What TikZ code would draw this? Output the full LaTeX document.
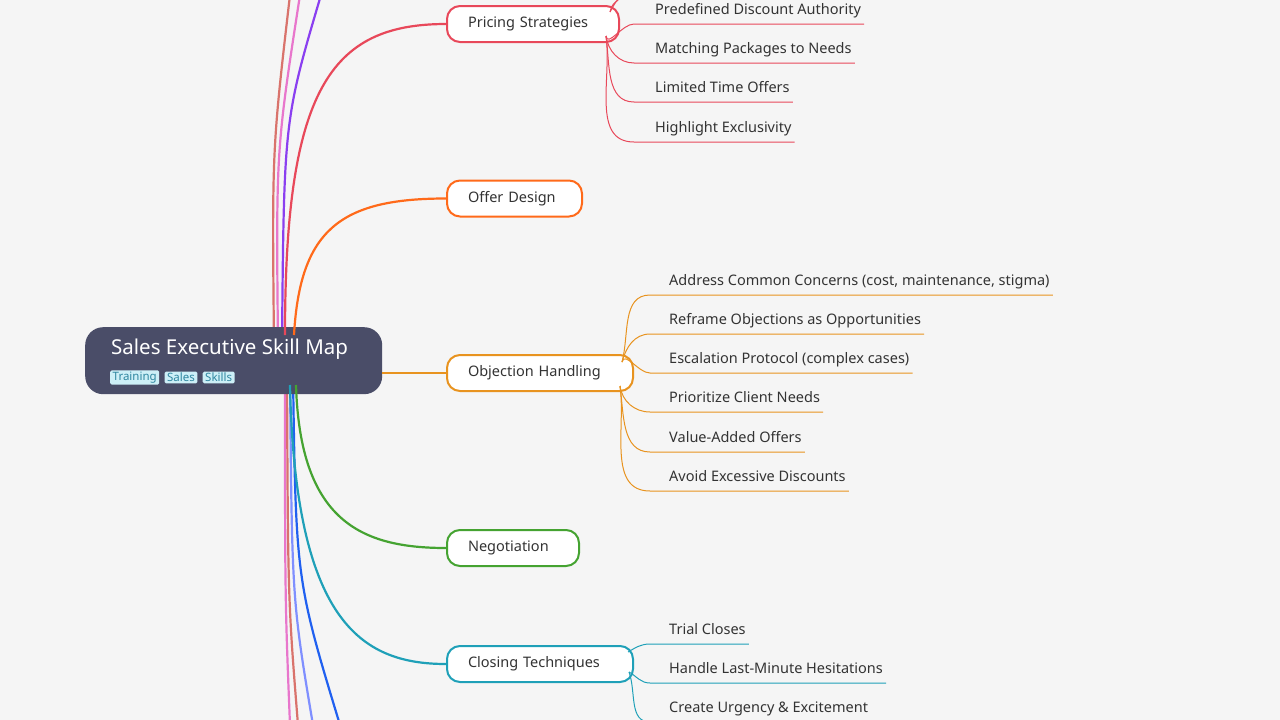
\documentclass[tikz,border=0pt]{standalone}
\usepackage{fontspec}
\setmainfont{Noto Sans}
\usetikzlibrary{calc}
\definecolor{bg}{HTML}{F5F5F5}
\definecolor{rootc}{HTML}{4A4D68}
\definecolor{tagf}{HTML}{CDEFF7}
\definecolor{tagt}{HTML}{2F86A0}
\definecolor{txt}{HTML}{333333}
\definecolor{cpri}{HTML}{E8485A}
\definecolor{coff}{HTML}{FF6A1A}
\definecolor{cobj}{HTML}{E8931F}
\definecolor{cneg}{HTML}{45A331}
\definecolor{cclo}{HTML}{1FA0B8}
\definecolor{cbrn}{HTML}{D9736C}
\definecolor{cpnk}{HTML}{E876CC}
\definecolor{cpur}{HTML}{8A3FF0}
\definecolor{clbl}{HTML}{7F8FFF}
\definecolor{cblu}{HTML}{2060F0}
\tikzset{
 br/.style={draw=#1, line width=2pt, rounded corners=13pt, fill=white, minimum height=36pt, inner xsep=21pt, anchor=west, align=left, text=txt, font=\fontsize{14.5}{17}\selectfont},
 kid/.style={anchor=base west, inner sep=0pt, text=txt, font=\fontsize{14.5}{17}\selectfont},
 ln/.style={draw=#1, line width=2.2pt},
 kl/.style={draw=#1, line width=1pt},
 tag/.style={fill=tagf, text=tagt, rounded corners=1.5pt, inner xsep=2.5pt, inner ysep=1.5pt, font=\fontsize{11.5}{12}\selectfont, anchor=west}
}
\begin{document}
\begin{tikzpicture}[x=1pt,y=-1pt]
\fill[bg] (0,0) rectangle (1280,720);
\useasboundingbox (0,0) rectangle (1280,720);
% off-screen branches
\coordinate (t1) at (290,-5); \coordinate (t2) at (300,-5); \coordinate (t3) at (321,-5);
\coordinate (b1) at (290,725); \coordinate (b2) at (298,725); \coordinate (b3) at (313,725); \coordinate (b4) at (340,725);
\coordinate (r1) at (274,345); \coordinate (r2) at (278,345); \coordinate (r3) at (282,345);
\coordinate (s1) at (285,375); \coordinate (s2) at (287,375); \coordinate (s3) at (290,375); \coordinate (s4) at (293,375);
\draw[ln=cbrn] (r1) .. controls (272,150) .. (t1);
\draw[ln=cpnk] (r2) .. controls (276,150) .. (t2);
\draw[ln=cpur] (r3) .. controls (284,120) .. (t3);
\draw[ln=cpnk] (s1) .. controls (285,600) .. (b1);
\draw[ln=cbrn] (s2) .. controls (288,600) .. (b2);
\draw[ln=clbl] (s3) .. controls (292,600) .. (b3);
\draw[ln=cblu] (s4) .. controls (296,580) .. (b4);
% branch nodes
\node[br=cpri, text width=130pt] (pri) at (446,24) {Pricing Strategies};
\node[br=coff, text width=93pt] (off) at (446,198.5) {Offer Design};
\node[br=cobj, text width=144pt] (obj) at (446,373) {Objection Handling};
\node[br=cneg, text width=90pt] (neg) at (446,548) {Negotiation};
\node[br=cclo, text width=144pt] (clo) at (446,664) {Closing Techniques};
% root
\node[fill=rootc, rounded corners=18pt, minimum width=297pt, minimum height=67pt, anchor=north west] (root) at (85,327) {};
\node[anchor=base west, text=white, font=\fontsize{20.5}{24}\selectfont, inner sep=0] (title) at (111,354) {Sales Executive Skill Map};
\node[tag] (tg1) at (110,377.5) {Training};
\node[tag, anchor=west] (tg2) at ($(tg1.east)+(5,0)$) {Sales};
\node[tag, anchor=west] (tg3) at ($(tg2.east)+(5,0)$) {Skills};
% main edges
\coordinate (o1) at (285,335); \coordinate (o2) at (294,335);
\coordinate (o4) at (296,385); \coordinate (o5) at (290,385);
\draw[ln=cpri] (o1) .. controls (285,90) and (330,24) .. (pri.west);
\draw[ln=coff] (o2) .. controls (300,230) and (340,198.5) .. (off.west);
\draw[ln=cobj] (root.east |- obj.west) -- (obj.west);
\draw[ln=cneg] (o4) .. controls (300,520) and (360,548) .. (neg.west);
\draw[ln=cclo] (o5) .. controls (295,620) and (360,664) .. (clo.west);
% pricing children
\coordinate (pa) at (606,36);
\coordinate (pb) at (610,12);
\draw[kl=cpri] (pb) to[out=60,in=190] (624,-3);
\draw[kl=cpri] (pb) .. controls (612,5) .. (620,-2);
\foreach \uy/\t [count=\i] in {24/Predefined Discount Authority,63/Matching Packages to Needs,102/Limited Time Offers,142/Highlight Exclusivity}{
 \node[kid] (p\i) at (655,\uy-10) {\t};
 \coordinate (pu\i) at (634,\uy);
 \draw[kl=cpri] (pa) to[out=-82,in=180] (pu\i) -- ($(pu\i -| p\i.east)+(3,0)$);
}
% objection children
\coordinate (oa) at (622,362); \coordinate (ob) at (620,386);
\foreach \uy/\t/\s [count=\i] in {295/Address Common Concerns (cost{,} maintenance{,} stigma)/oa,334/Reframe Objections as Opportunities/oa,373/Escalation Protocol (complex cases)/oa,412/Prioritize Client Needs/ob,452/Value-Added Offers/ob,491/Avoid Excessive Discounts/ob}{
 \node[kid] (q\i) at (669,\uy-10) {\t};
 \coordinate (qu\i) at (650,\uy);
 \draw[kl=cobj] (\s) to[out={\i<4 ? 75 : -82},in=180] (qu\i) -- ($(qu\i -| q\i.east)+(3,0)$);
}
% closing children
\coordinate (ca) at (628,652); \coordinate (cb) at (629,672);
\foreach \uy/\t/\s/\a [count=\i] in {644/Trial Closes/ca/30,683/Handle Last-Minute Hesitations/cb/-30,722/Create Urgency \& Excitement/cb/-70}{
 \node[kid] (c\i) at (669,\uy-10) {\t};
 \coordinate (cu\i) at (650,\uy);
 \draw[kl=cclo] (\s) to[out=\a,in=180] (cu\i) -- ($(cu\i -| c\i.east)+(3,0)$);
}
\end{tikzpicture}
\end{document}
